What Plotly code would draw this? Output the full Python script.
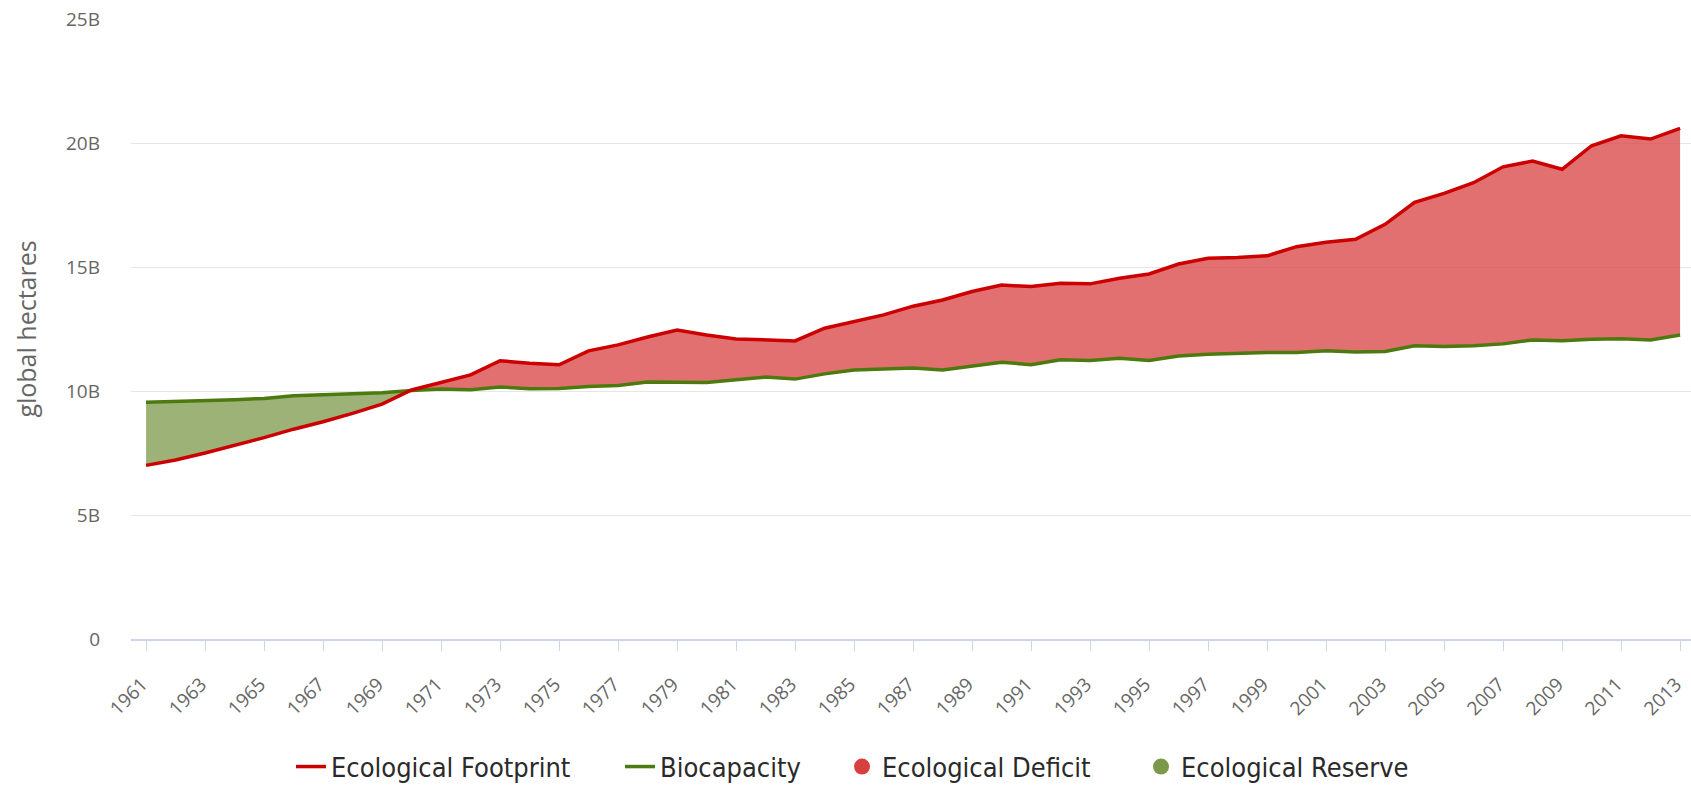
import numpy as np
import plotly.graph_objects as go

years = list(range(1961, 2014))

footprint = [
    7.00, 7.22, 7.50, 7.80, 8.12, 8.46, 8.76, 9.10, 9.47, 10.04,
    10.34, 10.65, 11.22, 11.12, 11.06, 11.62, 11.86, 12.18, 12.46, 12.26,
    12.10, 12.07, 12.02, 12.53, 12.80, 13.07, 13.42, 13.67, 14.01, 14.27,
    14.21, 14.34, 14.32, 14.55, 14.72, 15.12, 15.35, 15.38, 15.45, 15.82,
    16.00, 16.12, 16.72, 17.61, 17.97, 18.40, 19.04, 19.27, 18.94, 19.89,
    20.29, 20.16, 20.59,
]

biocapacity = [
    9.55, 9.58, 9.60, 9.65, 9.70, 9.81, 9.85, 9.89, 9.93, 10.02,
    10.08, 10.05, 10.16, 10.09, 10.10, 10.18, 10.22, 10.36, 10.36, 10.34,
    10.45, 10.56, 10.48, 10.69, 10.85, 10.88, 10.93, 10.85, 11.01, 11.16,
    11.06, 11.26, 11.23, 11.32, 11.23, 11.41, 11.48, 11.53, 11.55, 11.55,
    11.62, 11.57, 11.59, 11.82, 11.79, 11.82, 11.90, 12.06, 12.03, 12.09,
    12.11, 12.06, 12.26,
]

y_tick_values = [0, 5, 10, 15, 20, 25]
y_tick_labels = ["0", "5B", "10B", "15B", "20B", "25B"]

series_names = ["Ecological Footprint", "Biocapacity", "Ecological Deficit", "Ecological Reserve"]

RED_LINE = "#cc0000"
GREEN_LINE = "#4c7a0e"
RED_AREA = "rgba(216,64,64,0.75)"
GREEN_AREA = "rgba(124,152,74,0.75)"
RED_DOT = "#d84040"
GREEN_DOT = "#7c984a"

W, H = 1691, 785

# insert crossing points so the two fills meet cleanly
xs, fs, bs = [], [], []
for i in range(len(years)):
    if i > 0:
        d0 = footprint[i - 1] - biocapacity[i - 1]
        d1 = footprint[i] - biocapacity[i]
        if d0 * d1 < 0:
            t = d0 / (d0 - d1)
            xc = years[i - 1] + t * (years[i] - years[i - 1])
            yc = footprint[i - 1] + t * (footprint[i] - footprint[i - 1])
            xs.append(xc); fs.append(yc); bs.append(yc)
    xs.append(years[i]); fs.append(footprint[i]); bs.append(biocapacity[i])
upper = list(np.maximum(fs, bs))

fig = go.Figure()
# deficit area: between biocapacity and max(footprint, biocapacity)
fig.add_trace(go.Scatter(x=xs, y=bs, mode="lines", line=dict(width=0),
                         showlegend=False, hoverinfo="skip"))
fig.add_trace(go.Scatter(x=xs, y=upper, mode="lines", line=dict(width=0),
                         fill="tonexty", fillcolor=RED_AREA,
                         showlegend=False, hoverinfo="skip"))
# reserve area: between footprint and max(footprint, biocapacity)
fig.add_trace(go.Scatter(x=xs, y=fs, mode="lines", line=dict(width=0),
                         showlegend=False, hoverinfo="skip"))
fig.add_trace(go.Scatter(x=xs, y=upper, mode="lines", line=dict(width=0),
                         fill="tonexty", fillcolor=GREEN_AREA,
                         showlegend=False, hoverinfo="skip"))

fig.add_trace(go.Scatter(x=years, y=biocapacity, mode="lines", name=series_names[1],
                         line=dict(color=GREEN_LINE, width=3.5), legend="legend2"))
fig.add_trace(go.Scatter(x=years, y=footprint, mode="lines", name=series_names[0],
                         line=dict(color=RED_LINE, width=3.5), legend="legend"))
fig.add_trace(go.Scatter(x=[None], y=[None], mode="markers", name=series_names[2],
                         marker=dict(color=RED_DOT, size=18, symbol="circle"), legend="legend3"))
fig.add_trace(go.Scatter(x=[None], y=[None], mode="markers", name=series_names[3],
                         marker=dict(color=GREEN_DOT, size=18, symbol="circle"), legend="legend4"))

legend_font = dict(family="Liberation Sans Narrow, DejaVu Sans Condensed, sans-serif",
                   size=27, color="#2a2a2a")
legend_origins = [291, 620, 842, 1141]


def make_legend(px):
    return dict(orientation="h", xref="container", yref="container",
                x=px / W, xanchor="left", y=1 - 767 / H, yanchor="middle",
                font=legend_font, bgcolor="rgba(0,0,0,0)", traceorder="normal")


fig.update_layout(
    width=W, height=H,
    margin=dict(l=131, r=0, t=19, b=146, autoexpand=False),
    paper_bgcolor="white", plot_bgcolor="white",
    font=dict(family="Open Sans, sans-serif", color="#666666"),
    showlegend=True,
    legend=make_legend(legend_origins[0]),
    legend2=make_legend(legend_origins[1]),
    legend3=make_legend(legend_origins[2]),
    legend4=make_legend(legend_origins[3]),
    xaxis=dict(
        range=[1960.49, 2013.37],
        tickmode="linear", tick0=1961, dtick=2,
        tickangle=-45,
        ticks="outside", ticklen=10, tickcolor="#ccd6eb", tickwidth=1,
        showline=True, linecolor="#ccd6eb", linewidth=1.5,
        showgrid=False, zeroline=False,
        ticklabeloverflow="allow", ticklabelshift=-4, ticklabelstandoff=15,
        tickfont=dict(size=19, color="#666666"),
    ),
    yaxis=dict(
        range=[0, 25],
        tickmode="array", tickvals=y_tick_values, ticktext=y_tick_labels,
        showgrid=True, gridcolor="#e6e6e6", gridwidth=1,
        zeroline=False, showline=False,
        ticks="", ticklabelstandoff=30,
        tickfont=dict(size=19, color="#666666"),
        title=dict(text="global hectares", standoff=22,
                   font=dict(size=25, color="#666666")),
    ),
)

fig.write_html("out.html", config={"displayModeBar": False},
               post_script="document.body.style.margin='0';")
